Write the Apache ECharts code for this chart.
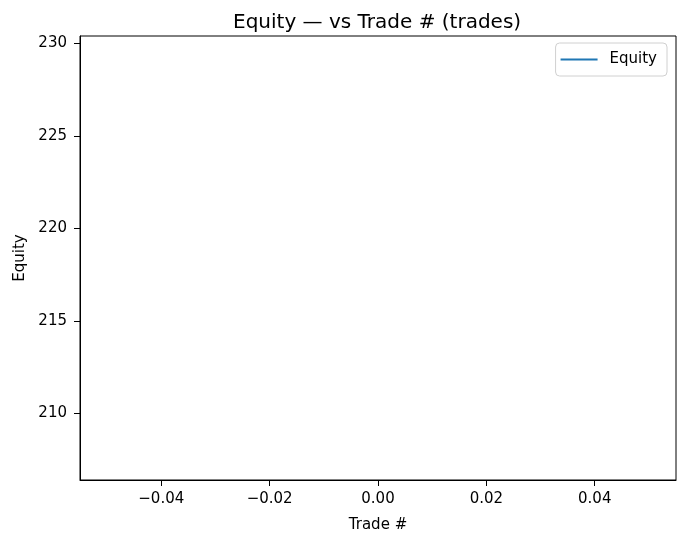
<!DOCTYPE html>
<html>
<head>
<meta charset="utf-8">
<script src="https://cdn.jsdelivr.net/npm/echarts@6/dist/echarts.min.js"></script>
<style>html,body{margin:0;padding:0;background:#fff;}#c{width:687px;height:546px;}</style>
</head>
<body>
<div id="c"></div>
<script>
const tradeNums = [0];
const equityValues = [218.4];
const xTicks = [-0.04, -0.02, 0, 0.02, 0.04];
const yTicks = [210, 215, 220, 225, 230];
const xRange = [-0.055, 0.055];
const yRange = [206.39, 230.41];

const font = 'DejaVu Sans';
const chart = echarts.init(document.getElementById('c'));
chart.setOption({
  animation: false,
  backgroundColor: '#fff',
  textStyle: {fontFamily: font, color: '#000'},
  title: {
    text: 'Equity — vs Trade # (trades)',
    left: 228, top: 8,
    textStyle: {fontFamily: font, fontSize: 20, fontWeight: 'normal', color: '#000'}
  },
  legend: {
    right: 20, top: 43,
    orient: 'vertical',
    padding: [8, 10, 8, 5],
    borderColor: '#d0d0d0', borderWidth: 1, borderRadius: 4,
    backgroundColor: 'rgba(255,255,255,0.8)',
    itemWidth: 37, itemHeight: 2, itemGap: 8,
    icon: 'rect',
    textStyle: {fontFamily: font, fontSize: 15, lineHeight: 17, color: '#000', padding: [0,0,0,7]},
    data: [{name: 'Equity', itemStyle: {color: '#1f77b4'}}]
  },
  grid: {
    left: 80, right: 11, top: 36, bottom: 66,
    show: true, borderColor: '#000', borderWidth: 1, containLabel: false
  },
  xAxis: {
    type: 'value', min: xRange[0], max: xRange[1],
    name: 'Trade #', nameLocation: 'middle', nameGap: 38,
    nameTextStyle: {fontFamily: font, fontSize: 15, color: '#000'},
    axisLine: {show: true, onZero: false, lineStyle: {color: '#000', width: 1}},
    axisTick: {show: true, inside: false, length: 6, customValues: xTicks, lineStyle: {color: '#000', width: 1}},
    axisLabel: {show: true, customValues: xTicks, margin: 12, fontFamily: font, fontSize: 15, color: '#000',
      formatter: v => (v < 0 ? '\u2212' : '') + Math.abs(v).toFixed(2)},
    splitLine: {show: false}
  },
  yAxis: {
    type: 'value', min: yRange[0], max: yRange[1],
    name: 'Equity', nameLocation: 'middle', nameGap: 50,
    nameTextStyle: {fontFamily: font, fontSize: 15, color: '#000'},
    axisLine: {show: true, onZero: false, lineStyle: {color: '#000', width: 1}},
    axisTick: {show: true, inside: false, length: 6, customValues: yTicks, lineStyle: {color: '#000', width: 1}},
    axisLabel: {show: true, customValues: yTicks, margin: 13, fontFamily: font, fontSize: 15, color: '#000'},
    splitLine: {show: false}
  },
  series: [{
    name: 'Equity', type: 'line', showSymbol: false,
    lineStyle: {color: '#1f77b4', width: 2},
    itemStyle: {color: '#1f77b4'},
    data: tradeNums.map((x, i) => [x, equityValues[i]])
  }]
});
</script>
</body>
</html>
